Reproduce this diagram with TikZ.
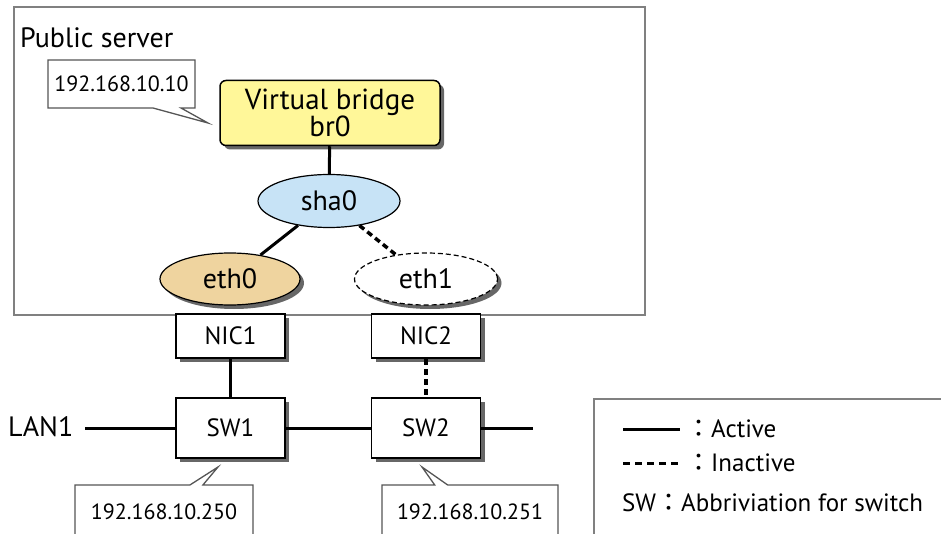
\documentclass[tikz,border=0pt]{standalone}
\usepackage{fontspec}
\setmainfont{PT Sans}
\newfontfamily\cjk{Noto Sans CJK JP}
\usetikzlibrary{shapes.geometric,shapes.callouts,shadows}
\definecolor{brfill}{HTML}{FFF799}
\definecolor{shafill}{HTML}{C7E3F6}
\definecolor{ethfill}{HTML}{EFD49F}
\definecolor{frgray}{HTML}{808080}
\definecolor{tipgray}{HTML}{555555}

\begin{document}
\begin{tikzpicture}[x=1pt,y=-1pt,
  every node/.style={font=\fontsize{25}{27}\selectfont},
  dshadow/.style={drop shadow={shadow xshift=4pt,shadow yshift=-4pt,fill=black!70,opacity=0.85}},
  box/.style={draw,line width=1.5pt,fill=white,minimum width=109,minimum height=44,inner sep=0,dshadow},
  port/.style={ellipse,draw,line width=1.2pt,minimum width=140,minimum height=52,inner sep=0,
    font=\fontsize{28}{30}\selectfont},
  tip/.style={rectangle callout,draw=tipgray,line width=1.3pt,fill=white,inner sep=0,
    font=\fontsize{22}{24}\selectfont},
  lbl/.style={anchor=west,inner sep=0},
  link/.style={line width=3pt},
  idle/.style={line width=3.5pt,dash pattern=on 6pt off 4pt}]
  \path[use as bounding box,clip] (0,0) rectangle (941,534);
  % server
  \node[draw=frgray,line width=2pt,minimum width=631,minimum height=308,inner sep=0] (server) at (329.5,161) {};
  \node[lbl,font=\fontsize{28}{30}\selectfont] (srvlbl) at (20,38) {Public server};
  \node[box,rounded corners=6pt,fill=brfill,minimum width=220,minimum height=65,align=center,
    font=\fontsize{29}{26}\selectfont] (br0) at (330,113) {Virtual bridge\\br0};
  \node[port,fill=shafill,minimum width=142,minimum height=53] (sha0) at (329,201) {sha0};
  \node[port,fill=ethfill,dshadow] (eth0) at (230,279) {eth0};
  \node[port,fill=white,dshadow,dash pattern=on 5pt off 3pt,minimum width=143] (eth1) at (426,279) {eth1};
  \draw[link] (br0) -- (sha0);
  \draw[link] (sha0) -- (eth0);
  \draw[idle] (sha0) -- (eth1);
  % nics and switches
  \foreach \i/\x in {1/230.5,2/426}{
    \node[box] (nic\i) at (\x,336) {NIC\i};
    \node[box,minimum height=60] (sw\i) at (\x,428) {SW\i};
  }
  \draw[link] (nic1) -- (sw1);
  \draw[idle] (nic2) -- (sw2);
  \node[lbl,font=\fontsize{28}{30}\selectfont] (lan) at (8,427) {LAN1};
  \coordinate (lanend) at (85,428);
  \coordinate (swend) at (533,428);
  \draw[link] (lanend) -- (sw1.west) (sw1.east) -- (sw2.west) (sw2.east) -- (swend);
  % addresses
  \node[tip,minimum width=147,minimum height=48,callout absolute pointer={(208,123)},
    callout pointer width=28pt] (ip10) at (121.5,84) {192.168.10.10};
  \node[tip,minimum width=178,minimum height=54,callout absolute pointer={(218,467)},
    callout pointer width=13pt] (ip250) at (164,512) {192.168.10.250};
  \node[tip,minimum width=176,minimum height=54,callout absolute pointer={(422,467)},
    callout pointer width=13pt] (ip251) at (470,512) {192.168.10.251};
  % legend
  \node[draw=frgray,line width=2pt,minimum width=360,minimum height=150,inner sep=0,anchor=north west] (legend) at (593,398) {};
  \coordinate (act0) at (623,429);
  \coordinate (act1) at (680,429);
  \coordinate (ina0) at (623,463);
  \coordinate (ina1) at (680,463);
  \draw[link] (act0) -- (act1);
  \draw[line width=3pt,dash pattern=on 7pt off 5pt] (ina0) -- (ina1);
  \node[lbl] (actlbl) at (686,429) {{\cjk ：}Active};
  \node[lbl] (inalbl) at (686,463) {{\cjk ：}Inactive};
  \node[lbl] (swlbl) at (622,503) {SW{\cjk ：}Abbriviation for switch};
\end{tikzpicture}
\end{document}
